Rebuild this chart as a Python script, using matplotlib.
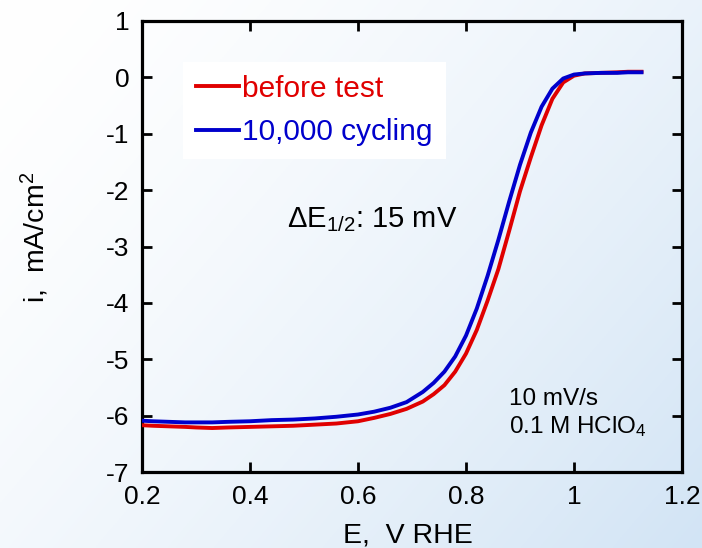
import matplotlib
matplotlib.use("Agg")
import matplotlib.pyplot as plt
import numpy as np
from matplotlib.colors import to_rgb

plt.rcParams["font.family"] = ["Liberation Sans", "DejaVu Sans"]
plt.rcParams["mathtext.fontset"] = "custom"
plt.rcParams["mathtext.rm"] = "Liberation Sans"
plt.rcParams["mathtext.it"] = "Liberation Sans:italic"
plt.rcParams["mathtext.bf"] = "Liberation Sans:bold"
plt.rcParams["axes.unicode_minus"] = False

# ORR polarization curves
e_before = [0.20, 0.22, 0.25, 0.28, 0.30, 0.33, 0.36, 0.40, 0.44, 0.48, 0.52,
            0.56, 0.60, 0.63, 0.66, 0.69, 0.72, 0.74, 0.76, 0.78, 0.80, 0.82,
            0.84, 0.86, 0.88, 0.90, 0.92, 0.94, 0.96, 0.98, 1.00, 1.02, 1.05,
            1.08, 1.10, 1.125]
i_before = [-6.17, -6.18, -6.19, -6.20, -6.21, -6.22, -6.21, -6.20, -6.19,
            -6.18, -6.16, -6.14, -6.10, -6.04, -5.97, -5.88, -5.75, -5.62,
            -5.46, -5.22, -4.90, -4.48, -3.96, -3.40, -2.72, -2.02, -1.42,
            -0.85, -0.38, -0.09, 0.03, 0.07, 0.08, 0.09, 0.10, 0.10]

e_after = [0.20, 0.22, 0.25, 0.28, 0.30, 0.33, 0.36, 0.40, 0.44, 0.48, 0.52,
           0.56, 0.60, 0.63, 0.66, 0.69, 0.72, 0.74, 0.76, 0.78, 0.80, 0.82,
           0.84, 0.86, 0.88, 0.90, 0.92, 0.94, 0.96, 0.98, 1.00, 1.02, 1.05,
           1.08, 1.10, 1.125]
i_after = [-6.09, -6.10, -6.11, -6.12, -6.12, -6.12, -6.11, -6.10, -6.08,
           -6.07, -6.05, -6.02, -5.98, -5.93, -5.86, -5.76, -5.58, -5.42,
           -5.22, -4.95, -4.58, -4.10, -3.52, -2.88, -2.20, -1.55, -0.98,
           -0.52, -0.20, -0.02, 0.05, 0.07, 0.08, 0.08, 0.09, 0.09]

x_ticks = [0.2, 0.4, 0.6, 0.8, 1.0, 1.2]
x_ticklabels = ["0.2", "0.4", "0.6", "0.8", "1", "1.2"]
y_ticks = [1, 0, -1, -2, -3, -4, -5, -6, -7]

fig = plt.figure(figsize=(7.02, 5.48), dpi=100)

# background gradient: white top-left -> light blue bottom-right
bg = fig.add_axes([0, 0, 1, 1], zorder=-10)
gx, gy = np.meshgrid(np.linspace(0, 1, 300), np.linspace(0, 1, 240))
t = np.clip(0.6 * gx + 0.4 * gy, 0, 1) ** 1.5
c0 = np.array(to_rgb("#ffffff"))
c1 = np.array(to_rgb("#d2e4f5"))
img = c0[None, None, :] * (1 - t[..., None]) + c1[None, None, :] * t[..., None]
bg.imshow(img, aspect="auto", extent=[0, 1, 0, 1], origin="upper")
bg.axis("off")

ax = fig.add_axes([142 / 702, 1 - 472 / 548, 540 / 702, 451 / 548])
ax.set_facecolor("none")

ax.plot(e_before, i_before, color="#e00000", lw=2.8, label="before test", zorder=3)
ax.plot(e_after, i_after, color="#0000cc", lw=2.8, label="10,000 cycling", zorder=4)

ax.set_xlim(0.2, 1.2)
ax.set_ylim(-7, 1)
ax.set_xticks(x_ticks)
ax.set_xticklabels(x_ticklabels)
ax.set_yticks(y_ticks)
ax.tick_params(direction="in", length=7, width=2, labelsize=19,
               top=True, right=True, pad=9)
for s in ax.spines.values():
    s.set_linewidth(2.3)

ax.set_xlabel("E,  V RHE", fontsize=20.5)
ax.xaxis.set_label_coords(0.493, -0.112)
ax.set_ylabel("i,  mA/cm$^2$", fontsize=20.5)
ax.yaxis.set_label_coords(-0.168, 0.52)

leg = ax.legend(loc="upper left", bbox_to_anchor=(0.076, 0.909), borderaxespad=0,
                fontsize=21.5, handlelength=1.45, handletextpad=0.12,
                labelspacing=0.52, borderpad=0.42, frameon=True, fancybox=False,
                labelcolor="linecolor")
leg.get_frame().set_facecolor("white")
leg.get_frame().set_edgecolor("none")
leg.get_frame().set_alpha(1)

ax.text(0.269, 0.543, "ΔE$_{1/2}$: 15 mV", transform=ax.transAxes,
        fontsize=21, va="baseline", ha="left")
ax.text(0.68, 0.149, "10 mV/s", transform=ax.transAxes,
        fontsize=17.5, va="baseline", ha="left")
ax.text(0.68, 0.086, "0.1 M HClO$_4$", transform=ax.transAxes,
        fontsize=17.5, va="baseline", ha="left")

fig.savefig("out.png", dpi=100)
plt.close(fig)
